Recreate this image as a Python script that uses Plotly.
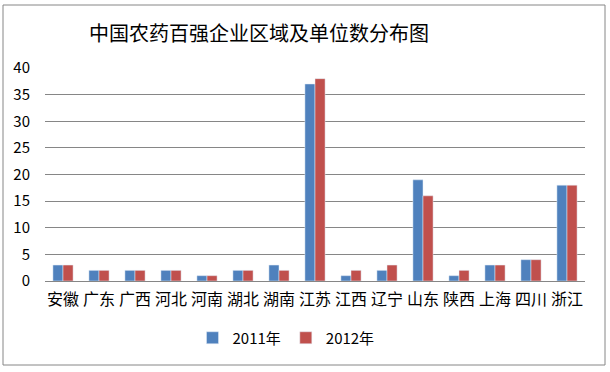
import plotly.graph_objects as go

categories = ["安徽", "广东", "广西", "河北", "河南", "湖北", "湖南", "江苏", "江西", "辽宁", "山东", "陕西", "上海", "四川", "浙江"]
values_2011 = [3, 2, 2, 2, 1, 2, 3, 37, 1, 2, 19, 1, 3, 4, 18]
values_2012 = [3, 2, 2, 2, 1, 2, 2, 38, 2, 3, 16, 2, 3, 4, 18]
series_names = ["2011年", "2012年"]
y_ticks = [0, 5, 10, 15, 20, 25, 30, 35, 40]

W, H = 610, 372
L, R, T, B = 45, 25, 68, 91
pw, ph = W - L - R, H - T - B

font_family = "Noto Sans CJK SC, Noto Sans, sans-serif"

fig = go.Figure()
fig.add_trace(go.Bar(x=categories, y=values_2011, name=series_names[0], marker_color="#4F81BD"))
fig.add_trace(go.Bar(x=categories, y=values_2012, name=series_names[1], marker_color="#C0504D"))

def px_x(p):
    return (p - L) / pw

def px_y(p):
    return (H - B - p) / ph

fig.update_layout(
    width=W, height=H,
    margin=dict(l=L, r=R, t=T, b=B, autoexpand=False),
    paper_bgcolor="white", plot_bgcolor="white",
    barmode="group", bargap=0.44, bargroupgap=0,
    font=dict(family=font_family, color="black"),
    title=dict(text="中国农药百强企业区域及单位数分布图", x=259 / W, xanchor="center", xref="container",
               y=1 - 34 / H, yanchor="middle", font=dict(size=20, color="black")),
    xaxis=dict(showline=True, linecolor="#868686", linewidth=1, showgrid=False, automargin=False,
               tickfont=dict(size=16), ticks="", ticklabelstandoff=4),
    yaxis=dict(range=[0, 40], tickvals=y_ticks, showgrid=True, gridcolor="#868686", gridwidth=1,
               automargin=False, zeroline=False, showline=False, tickfont=dict(size=15), ticks="",
               ticklabelstandoff=14),
    legend=dict(orientation="h", x=px_x(286), xanchor="center", y=px_y(338), yanchor="middle",
                font=dict(size=15), traceorder="normal", itemwidth=30),
    showlegend=True,
)
fig.add_shape(type="rect", xref="paper", yref="paper",
              x0=px_x(3), x1=px_x(605), y0=px_y(365), y1=px_y(5),
              line=dict(color="#868686", width=1), fillcolor="rgba(0,0,0,0)", layer="below")

fig.write_html("out.html", config={"displayModeBar": False},
               post_script="document.body.style.margin='0';document.body.style.overflow='hidden';")
